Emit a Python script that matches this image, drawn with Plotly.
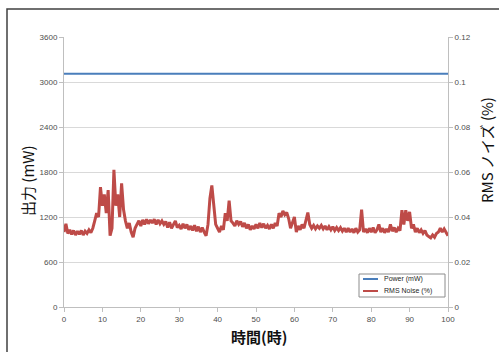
import plotly.graph_objects as go

# Time (hours)
hours = [i * 0.5 for i in range(201)]

# Output power (mW) – essentially flat
power_hours = [0, 25, 50, 75, 100]
power_mw = [3110, 3110, 3108, 3108, 3110]

# RMS noise (%), every 0.5 h
rms_noise = [
    0.0333, 0.0370, 0.0327, 0.0343, 0.0323, 0.0340, 0.0320, 0.0337, 0.0323, 0.0340,
    0.0320, 0.0337, 0.0327, 0.0343, 0.0330, 0.0350, 0.0383, 0.0417, 0.0400, 0.0533,
    0.0450, 0.0500, 0.0417, 0.0520, 0.0317, 0.0350, 0.0610, 0.0450, 0.0500, 0.0400,
    0.0550, 0.0433, 0.0383, 0.0350, 0.0373, 0.0333, 0.0310, 0.0350, 0.0367, 0.0383,
    0.0360, 0.0387, 0.0367, 0.0390, 0.0370, 0.0387, 0.0373, 0.0390, 0.0367, 0.0387,
    0.0370, 0.0383, 0.0367, 0.0380, 0.0353, 0.0377, 0.0350, 0.0367, 0.0383, 0.0353,
    0.0363, 0.0347, 0.0370, 0.0350, 0.0367, 0.0343, 0.0360, 0.0340, 0.0363, 0.0337,
    0.0357, 0.0333, 0.0353, 0.0333, 0.0317, 0.0367, 0.0483, 0.0540, 0.0433, 0.0367,
    0.0350, 0.0333, 0.0360, 0.0343, 0.0417, 0.0383, 0.0473, 0.0383, 0.0373, 0.0360,
    0.0383, 0.0367, 0.0380, 0.0357, 0.0373, 0.0350, 0.0367, 0.0343, 0.0360, 0.0347,
    0.0367, 0.0350, 0.0373, 0.0353, 0.0370, 0.0350, 0.0363, 0.0347, 0.0367, 0.0350,
    0.0373, 0.0360, 0.0417, 0.0400, 0.0427, 0.0410, 0.0420, 0.0393, 0.0350, 0.0373,
    0.0400, 0.0333, 0.0360, 0.0343, 0.0367, 0.0350, 0.0383, 0.0420, 0.0367, 0.0350,
    0.0363, 0.0347, 0.0360, 0.0350, 0.0363, 0.0347, 0.0360, 0.0343, 0.0357, 0.0343,
    0.0357, 0.0340, 0.0353, 0.0340, 0.0353, 0.0337, 0.0350, 0.0333, 0.0350, 0.0333,
    0.0347, 0.0330, 0.0350, 0.0333, 0.0343, 0.0433, 0.0333, 0.0347, 0.0330, 0.0350,
    0.0333, 0.0353, 0.0330, 0.0343, 0.0367, 0.0333, 0.0350, 0.0330, 0.0347, 0.0333,
    0.0367, 0.0337, 0.0353, 0.0333, 0.0350, 0.0340, 0.0430, 0.0367, 0.0430, 0.0383,
    0.0423, 0.0350, 0.0367, 0.0333, 0.0350, 0.0330, 0.0343, 0.0327, 0.0340, 0.0320,
    0.0313, 0.0307, 0.0320, 0.0310, 0.0327, 0.0333, 0.0350, 0.0333, 0.0347, 0.0330,
    0.0317,
]

series_names = ["Power (mW)", "RMS Noise (%)"]
x_ticks = [0, 10, 20, 30, 40, 50, 60, 70, 80, 90, 100]
left_ticks = [0, 600, 1200, 1800, 2400, 3000, 3600]
right_ticks = [0, 0.02, 0.04, 0.06, 0.08, 0.1, 0.12]
right_tick_text = ["0", "0.02", "0.04", "0.06", "0.08", "0.1", "0.12"]

BLUE = "#4a7ebb"
RED = "#be4b48"
GRID = "#d9d9d9"
AXIS = "#bfbfbf"
TICKFONT = dict(family="Liberation Sans, Arial", size=8, color="#4d4d4d")
JP = "Noto Sans CJK JP"

# plot-area geometry in pixels (for paper coordinate conversion)
L, R, T, B = 64, 448, 37, 307
def px(x):
    return (x - L) / (R - L)
def py(y):
    return (B - y) / (B - T)

fig = go.Figure()
fig.add_trace(go.Scatter(
    x=power_hours, y=power_mw, mode="lines", name=series_names[0],
    line=dict(color=BLUE, width=2), yaxis="y", showlegend=False))
fig.add_trace(go.Scatter(
    x=hours, y=rms_noise, mode="lines", name=series_names[1],
    line=dict(color=RED, width=3), yaxis="y2", showlegend=False))

legend_font = dict(family="Liberation Sans, Arial", size=7, color="#262626")

fig.update_layout(
    width=499, height=352,
    margin=dict(l=L, r=499 - R, t=T, b=352 - B),
    paper_bgcolor="white", plot_bgcolor="white",
    showlegend=False,
    xaxis=dict(
        range=[0, 100], tickvals=x_ticks, showgrid=False,
        showline=True, linecolor=AXIS, linewidth=1,
        ticks="outside", ticklen=4, tickcolor=AXIS,
        tickfont=TICKFONT, zeroline=False, automargin=False),
    yaxis=dict(
        range=[0, 3600], tickvals=left_ticks, showgrid=True, gridcolor=GRID,
        showline=True, linecolor=AXIS, linewidth=1,
        ticks="outside", ticklen=4, tickcolor=AXIS,
        tickfont=TICKFONT, zeroline=False, automargin=False),
    yaxis2=dict(
        range=[0, 0.12], tickvals=right_ticks, ticktext=right_tick_text,
        overlaying="y", side="right", showgrid=False,
        showline=True, linecolor=AXIS, linewidth=1,
        ticks="outside", ticklen=4, tickcolor=AXIS,
        tickfont=TICKFONT, zeroline=False, automargin=False),
    shapes=[
        # outer chart frame
        dict(type="rect", xref="paper", yref="paper",
             x0=px(7), x1=px(530), y0=py(380), y1=py(9),
             line=dict(color="#404040", width=1.5), fillcolor="rgba(0,0,0,0)",
             layer="below"),
        # legend box
        dict(type="rect", xref="paper", yref="paper",
             x0=px(359), x1=px(445), y0=py(297), y1=py(274),
             line=dict(color="#8c8c8c", width=1), fillcolor="white", layer="above"),
        dict(type="line", xref="paper", yref="paper",
             x0=px(363), x1=px(378), y0=py(279), y1=py(279),
             line=dict(color=BLUE, width=2), layer="above"),
        dict(type="line", xref="paper", yref="paper",
             x0=px(363), x1=px(378), y0=py(291), y1=py(291),
             line=dict(color=RED, width=2), layer="above"),
    ],
    annotations=[
        dict(text=series_names[0], xref="paper", yref="paper",
             x=px(382), y=py(279), xanchor="left", yanchor="middle",
             showarrow=False, font=legend_font),
        dict(text=series_names[1], xref="paper", yref="paper",
             x=px(382), y=py(291), xanchor="left", yanchor="middle",
             showarrow=False, font=legend_font),
        dict(text="時間(時)", xref="paper", yref="paper",
             x=px(259), y=py(336), xanchor="center", yanchor="middle",
             showarrow=False, font=dict(family=JP, size=15, color="#111111", weight="bold")),
        dict(text="出力 (mW)", xref="paper", yref="paper",
             x=px(27), y=py(181), xanchor="center", yanchor="middle",
             textangle=-90, showarrow=False,
             font=dict(family=JP, size=15, color="#111111")),
        dict(text="RMS ノイズ (%)", xref="paper", yref="paper",
             x=px(486), y=py(150), xanchor="center", yanchor="middle",
             textangle=-90, showarrow=False,
             font=dict(family=JP, size=15, color="#111111")),
    ],
)

fig.write_html("out.html", config={"displayModeBar": False},
               post_script="document.body.style.margin='0px';")
